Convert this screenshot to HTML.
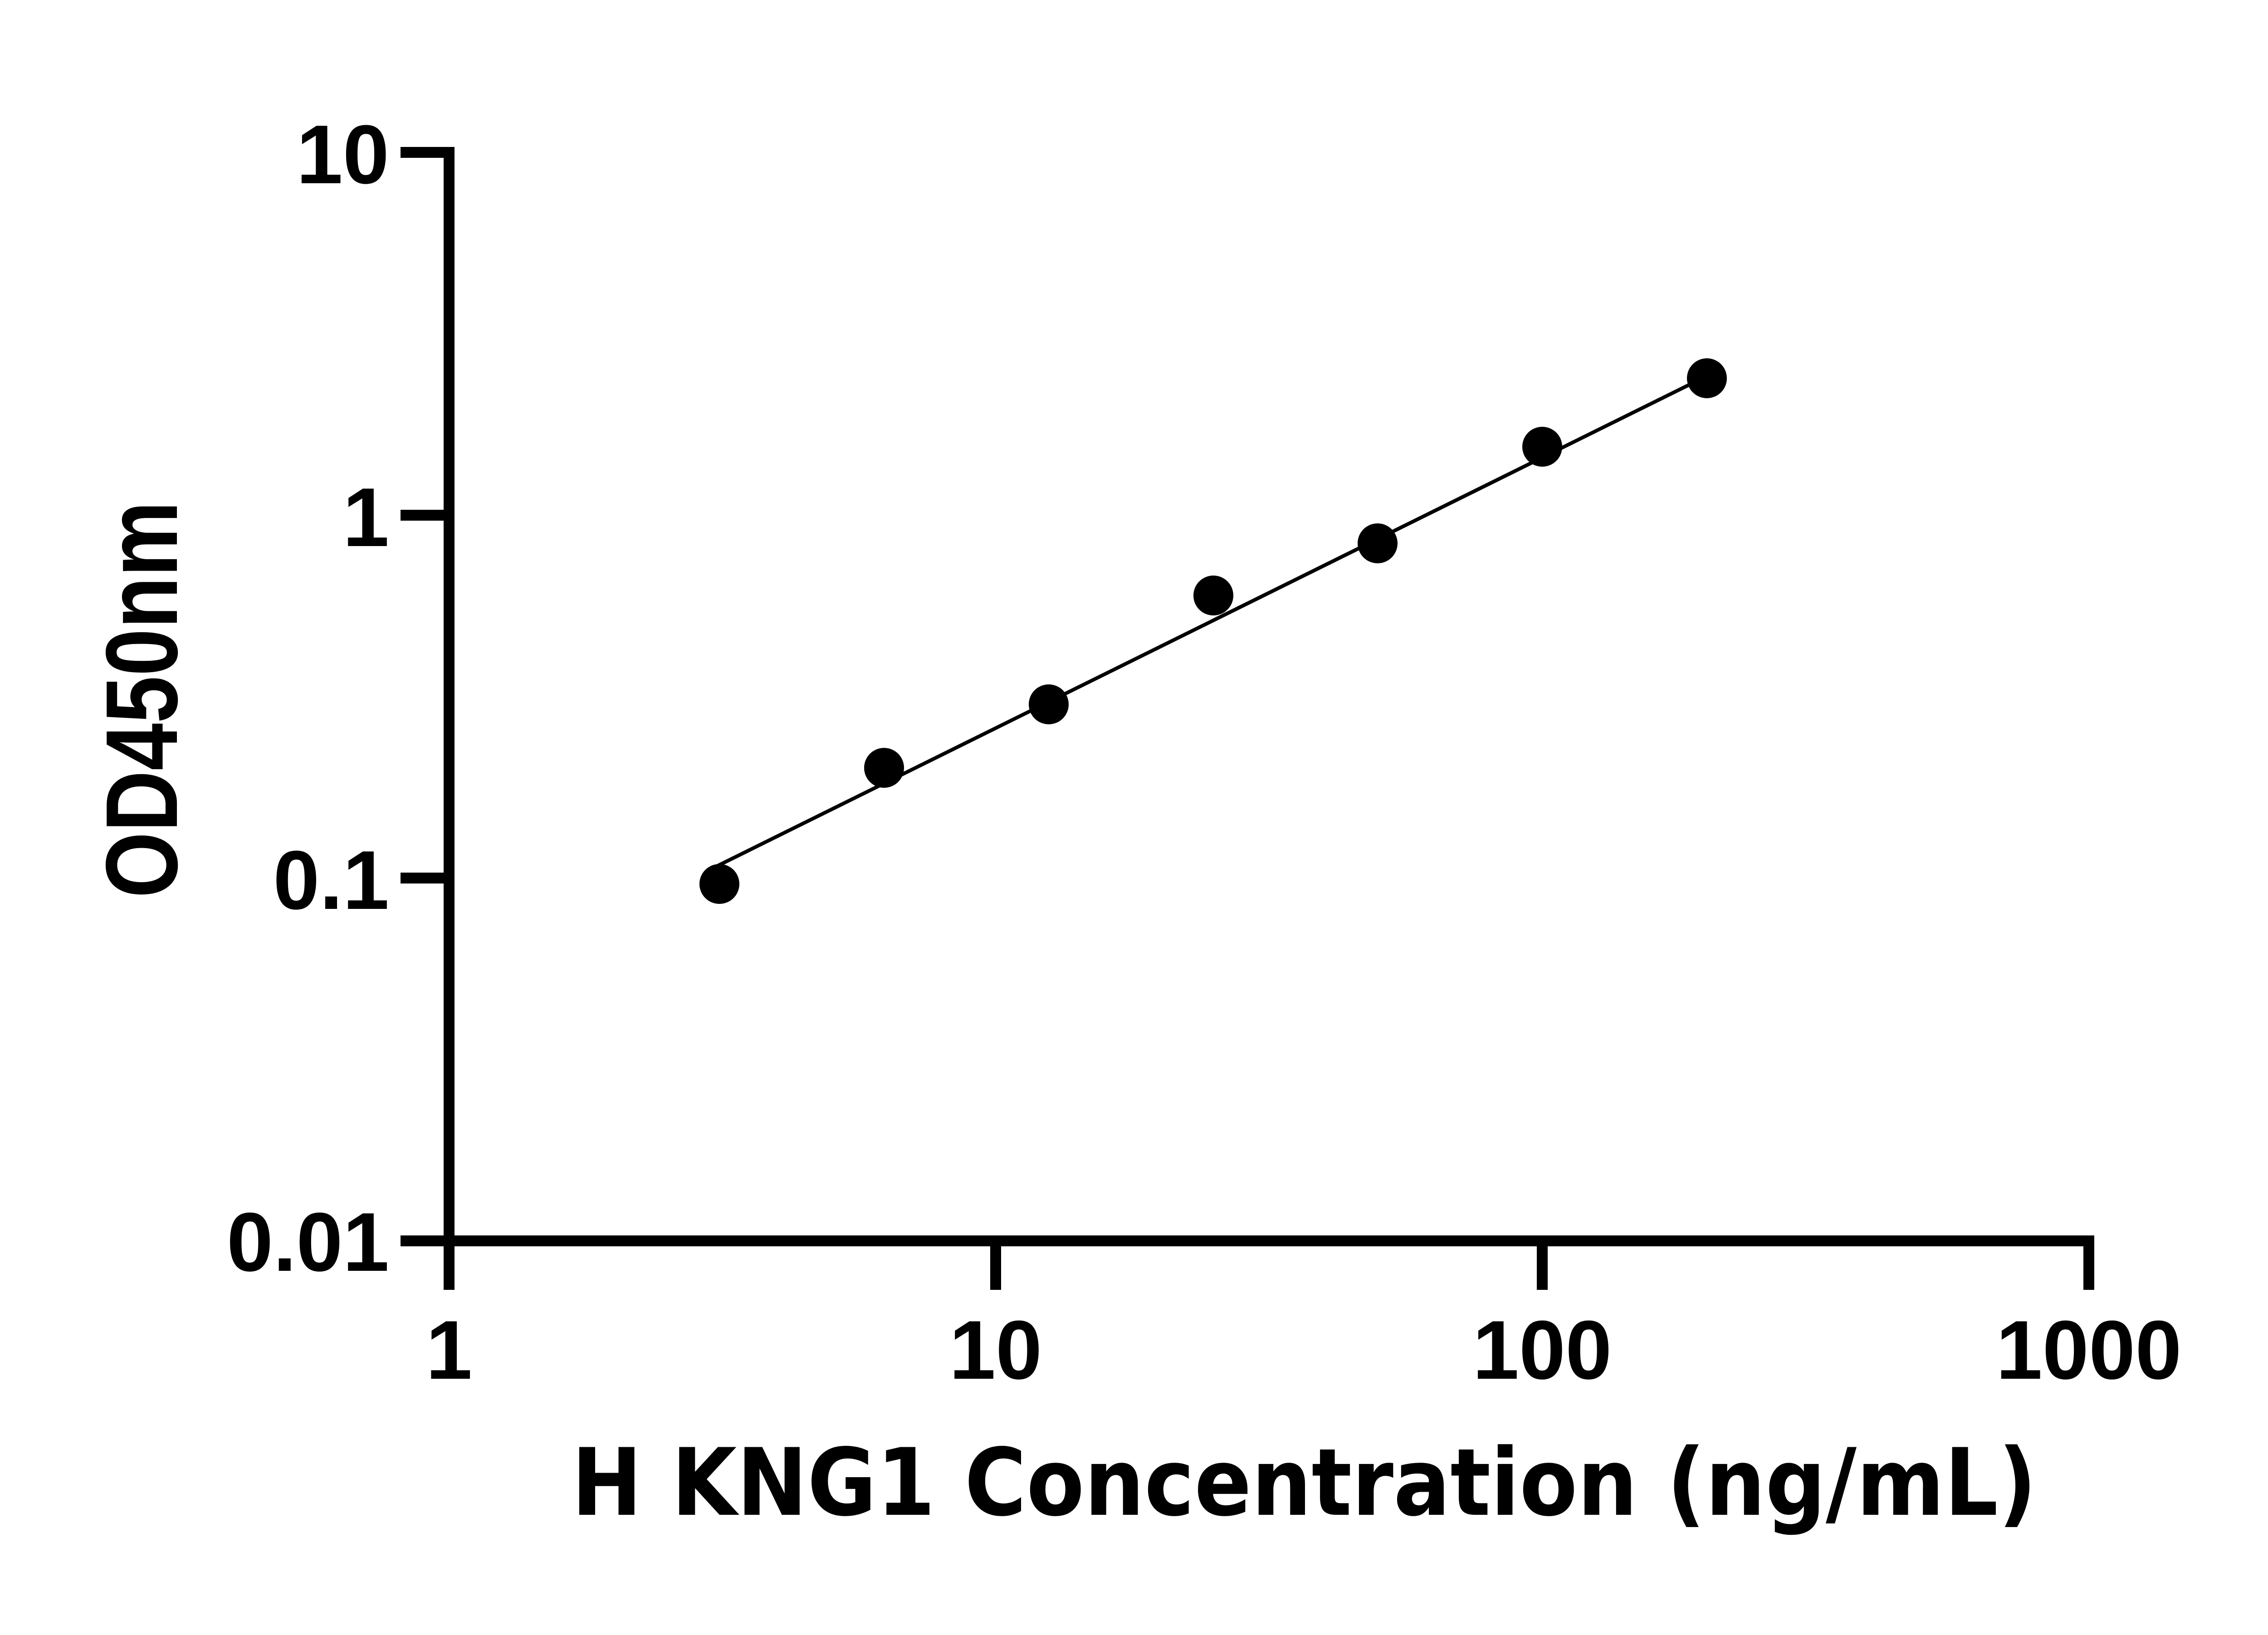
<!DOCTYPE html>
<html><head><style>html,body{margin:0;padding:0;background:#fff}</style></head>
<body>
<svg width="5142" height="3600" viewBox="0 0 5142 3600" xmlns="http://www.w3.org/2000/svg">
<rect width="5142" height="3600" fill="#fff"/>
<g stroke="#000" stroke-width="24" fill="none" stroke-linecap="square">
<line x1="990" y1="336" x2="990" y2="2736"/>
<line x1="990" y1="2736" x2="4605" y2="2736"/>
<line x1="895" y1="336" x2="990" y2="336"/>
<line x1="895" y1="1136" x2="990" y2="1136"/>
<line x1="895" y1="1936" x2="990" y2="1936"/>
<line x1="895" y1="2736" x2="990" y2="2736"/>
<line x1="990" y1="2736" x2="990" y2="2832"/>
<line x1="2195" y1="2736" x2="2195" y2="2832"/>
<line x1="3400" y1="2736" x2="3400" y2="2832"/>
<line x1="4605" y1="2736" x2="4605" y2="2832"/>
</g>
<line x1="1580" y1="1910" x2="3745" y2="838" stroke="#000" stroke-width="8"/>
<g fill="#000">
<circle cx="1586" cy="1949" r="44"/>
<circle cx="1949" cy="1693" r="44"/>
<circle cx="2312" cy="1553" r="44"/>
<circle cx="2675" cy="1313" r="44"/>
<circle cx="3037" cy="1198" r="44"/>
<circle cx="3400" cy="985" r="44"/>
<circle cx="3763" cy="834" r="44"/>
</g>
<g font-family="Liberation Sans, Arial, sans-serif" font-weight="bold" font-size="184" fill="#000">
<text x="858" y="404" text-anchor="end">10</text>
<text x="858" y="1204" text-anchor="end">1</text>
<text x="858" y="2004" text-anchor="end">0.1</text>
<text x="858" y="2802" text-anchor="end">0.01</text>
<text x="990" y="3040" text-anchor="middle">1</text>
<text x="2195" y="3040" text-anchor="middle">10</text>
<text x="3400" y="3040" text-anchor="middle">100</text>
<text x="4605" y="3040" text-anchor="middle">1000</text>
</g>
<text x="1260" y="3340" font-family="DejaVu Sans, sans-serif" font-weight="bold" font-size="205" textLength="3230" lengthAdjust="spacingAndGlyphs" fill="#000">H KNG1 Concentration (ng/mL)</text>
<text transform="translate(390,1980) rotate(-90)" x="0" y="0" font-family="Liberation Sans, Arial, sans-serif" font-weight="bold" font-size="225" textLength="875" lengthAdjust="spacingAndGlyphs" fill="#000">OD450nm</text>
</svg>
</body></html>
